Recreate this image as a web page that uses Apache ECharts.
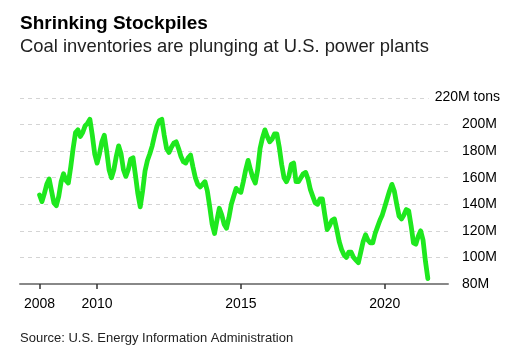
<!DOCTYPE html>
<html><head><meta charset="utf-8">
<script src="https://cdn.jsdelivr.net/npm/echarts@6/dist/echarts.min.js"></script>
<style>html,body{margin:0;padding:0;background:#fff}#c{width:526px;height:362px}</style>
</head><body><div id="c"></div><script>
const titleText = 'Shrinking Stockpiles';
const subtitleText = 'Coal inventories are plunging at U.S. power plants';
const sourceText = 'Source: U.S. Energy Information Administration';
const unitLabel = '220M tons';
const startYear = 2008; // monthly data starting January 2008
const yearTicks = [2008, 2010, 2015, 2020];
const yMin = 80, yMax = 220, yStep = 20;
// Coal stockpiles at U.S. power plants, million tons, monthly Jan 2008 - Jul 2021
const stockpiles = [
  147,142,148,155,159,150,141,139,146,157,163,158,
  156,168,182,194,196,191,194,199,201,204,192,178,
  171,178,187,192,180,166,160,166,176,184,178,166,
  161,166,174,175,162,148,138,150,165,173,178,184,
  192,199,203,204,192,182,179,183,186,187,182,176,
  172,171,175,177,168,160,155,153,155,157,150,138,
  125,118,128,137,132,125,122,130,140,146,152,150,
  149,157,166,173,166,160,156,166,182,190,196,191,
  187,189,193,193,183,170,160,157,161,170,171,157,
  157,160,163,164,159,151,146,141,140,144,144,132,
  121,124,128,129,121,112,106,102,100,104,104,100,
  98,96,104,112,117,113,111,111,118,123,128,132,
  138,144,150,155,150,140,131,129,132,136,135,124,
  111,110,116,120,113,97,84
];
const font = '"Liberation Sans", Arial, sans-serif';
const chart = echarts.init(document.getElementById('c'), null, {renderer: 'canvas'});
const option = {
  animation: false,
  backgroundColor: '#fff',
  grid: {left: 20, right: 78, top: 98, bottom: 78, containLabel: false},
  title: [
    {text: titleText, left: 15, top: 9, textStyle: {fontFamily: font, fontSize: 19, fontWeight: 'bold', color: '#000'}},
    {text: subtitleText, left: 15, top: 33, textStyle: {fontFamily: font, fontSize: 18.4, fontWeight: 'normal', color: '#222'}},
    {text: sourceText, left: 15, top: 327, textStyle: {fontFamily: font, fontSize: 13, fontWeight: 'normal', color: '#222'}}
  ],
  xAxis: {
    type: 'value', min: 2007.32, max: 2022.2,
    axisLine: {show: true, lineStyle: {color: '#888', width: 2}},
    axisTick: {show: true, customValues: yearTicks, length: 5, lineStyle: {color: '#333', width: 1.5}},
    axisLabel: {customValues: yearTicks, margin: 13, fontFamily: font, fontSize: 14, color: '#000', formatter: v => String(v)},
    splitLine: {show: false}
  },
  yAxis: {
    type: 'value', position: 'right', min: yMin, max: yMax, interval: yStep,
    axisLine: {show: false}, axisTick: {show: false},
    axisLabel: {margin: 14, fontFamily: font, fontSize: 14, color: '#000',
      formatter: v => v === yMax ? '' : v + 'M'},
    splitLine: {show: true, lineStyle: {color: '#d4d4d4', width: 1, type: [4, 4]}}
  },
  series: [{
    type: 'line', showSymbol: false, symbol: 'none',
    data: stockpiles.map((v, i) => [startYear + i / 12, v]),
    lineStyle: {color: '#1ee81e', width: 4.8, cap: 'round', join: 'round'},
    z: 5
  }]
};
chart.setOption(option);
const yTop = chart.convertToPixel({yAxisIndex: 0}, yMax);
chart.setOption({graphic: [{
  type: 'text', right: 26, top: yTop - 9, z: 10,
  style: {text: unitLabel, fontFamily: font, fontSize: 14, fill: '#000', backgroundColor: '#fff', padding: [1, 0, 1, 6]}
}]});
</script></body></html>
